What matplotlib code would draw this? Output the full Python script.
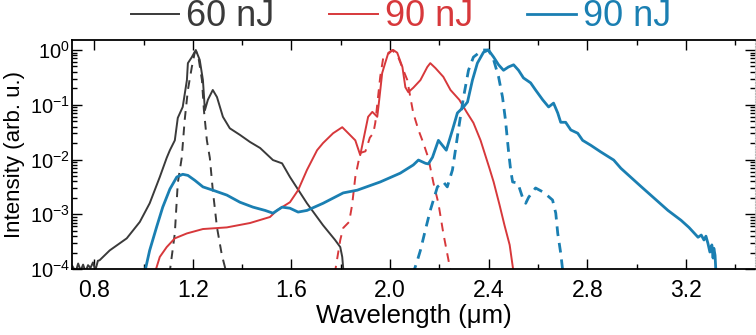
import numpy as np
import matplotlib
matplotlib.use("Agg")
import matplotlib.pyplot as plt
from matplotlib.ticker import LogLocator, MultipleLocator, NullFormatter

plt.rcParams['font.family'] = ['Liberation Sans', 'DejaVu Sans']
plt.rcParams['mathtext.default'] = 'regular'

# --- espectros (longitud de onda en um, log10 de intensidad normalizada) ---
wl_60_out = [0.712, 0.725, 0.735, 0.745, 0.755, 0.765, 0.775, 0.785, 0.795, 0.805, 0.815, 0.822,
             0.863, 0.932, 0.985, 1.025, 1.066, 1.094, 1.107, 1.127, 1.139, 1.159, 1.176, 1.180,
             1.196, 1.212, 1.228, 1.241, 1.249, 1.261, 1.281, 1.298, 1.322, 1.350, 1.391, 1.432,
             1.473, 1.525, 1.562, 1.594, 1.663, 1.728, 1.777, 1.798, 1.806, 1.812]
lg_60_out = [-3.95, -4.05, -3.90, -4.03, -3.92, -4.05, -3.93, -3.98, -3.88, -4.02, -3.85, -3.84,
             -3.66, -3.44, -3.14, -2.80, -2.32, -1.97, -1.83, -1.65, -1.24, -1.04, -0.55, -0.24,
             -0.13, 0.0, -0.18, -0.55, -1.10, -0.91, -0.73, -0.86, -1.22, -1.43, -1.55, -1.68,
             -1.79, -2.01, -2.07, -2.32, -2.80, -3.20, -3.47, -3.60, -3.78, -4.10]

wl_60_in = [1.105, 1.127, 1.139, 1.155, 1.167, 1.180, 1.196, 1.208, 1.220, 1.237, 1.245, 1.257,
            1.269, 1.281, 1.298, 1.318, 1.338]
lg_60_in = [-4.10, -3.35, -2.43, -1.97, -1.28, -0.73, -0.31, -0.04, -0.05, -0.55, -1.10, -1.65,
            -1.97, -2.56, -3.24, -3.75, -4.10]

wl_90a_out = [1.044, 1.066, 1.094, 1.127, 1.176, 1.241, 1.338, 1.432, 1.513, 1.541, 1.594, 1.627,
              1.663, 1.704, 1.728, 1.769, 1.806, 1.826, 1.859, 1.879, 1.900, 1.911, 1.928, 1.948,
              1.956, 1.968, 1.980, 1.993, 2.013, 2.029, 2.050, 2.062, 2.074, 2.094, 2.123, 2.151,
              2.163, 2.184, 2.216, 2.245, 2.281, 2.310, 2.338, 2.367, 2.403, 2.420, 2.444, 2.464,
              2.485, 2.502]
lg_90a_out = [-4.10, -3.78, -3.60, -3.44, -3.35, -3.27, -3.24, -3.16, -3.05, -2.93, -2.78, -2.56,
              -2.19, -1.83, -1.70, -1.52, -1.41, -1.50, -1.65, -1.92, -1.46, -1.22, -1.13, -1.22,
              -0.91, -0.42, -0.24, -0.05, 0.0, -0.05, -0.31, -0.68, -0.77, -0.69, -0.55, -0.31,
              -0.24, -0.33, -0.49, -0.73, -0.91, -1.13, -1.33, -1.65, -2.16, -2.41, -2.83, -3.20,
              -3.56, -4.10]

wl_90a_in = [1.775, 1.798, 1.810, 1.834, 1.846, 1.859, 1.879, 1.900, 1.918, 1.932, 1.940, 1.960,
             1.972, 1.989, 2.009, 2.033, 2.054, 2.070, 2.082, 2.094, 2.115, 2.135, 2.155, 2.176,
             2.196, 2.216, 2.237, 2.247]
lg_90a_in = [-4.10, -3.47, -3.25, -3.14, -2.83, -2.32, -1.88, -1.85, -1.60, -1.52, -1.33, -0.49,
             -0.15, -0.09, 0.0, -0.13, -0.37, -0.55, -0.86, -1.15, -1.46, -1.70, -1.97, -2.43,
             -2.80, -3.35, -3.84, -4.10]

wl_90b_out = [1.003, 1.025, 1.054, 1.078, 1.107, 1.135, 1.159, 1.180, 1.208, 1.241, 1.281, 1.338,
              1.391, 1.444, 1.493, 1.525, 1.562, 1.594, 1.627, 1.663, 1.728, 1.810, 1.867, 1.960,
              2.041, 2.094, 2.115, 2.144, 2.155, 2.172, 2.196, 2.228, 2.253, 2.273, 2.298, 2.314,
              2.334, 2.354, 2.379, 2.399, 2.420, 2.440, 2.460, 2.480, 2.501, 2.521, 2.541, 2.570,
              2.590, 2.619, 2.643, 2.663, 2.680, 2.692, 2.712, 2.733, 2.761, 2.781, 2.814, 2.854,
              2.907, 2.936, 3.017, 3.127, 3.180, 3.212, 3.249, 3.262, 3.273, 3.281, 3.289, 3.297,
              3.305, 3.310, 3.313, 3.318, 3.322]
lg_90b_out = [-4.10, -3.66, -3.22, -2.87, -2.54, -2.32, -2.27, -2.29, -2.38, -2.50, -2.56, -2.65,
              -2.78, -2.87, -2.93, -2.98, -2.87, -2.89, -2.96, -2.93, -2.80, -2.61, -2.56, -2.41,
              -2.25, -2.10, -2.01, -2.07, -2.08, -1.96, -1.65, -1.83, -1.46, -1.15, -1.04, -0.95,
              -0.55, -0.24, -0.04, 0.0, -0.13, -0.27, -0.37, -0.31, -0.27, -0.37, -0.51, -0.60,
              -0.73, -0.91, -1.04, -0.97, -1.15, -1.32, -1.32, -1.46, -1.52, -1.65, -1.74, -1.86,
              -2.01, -2.16, -2.49, -2.93, -3.11, -3.24, -3.42, -3.38, -3.47, -3.40, -3.53, -3.69,
              -3.56, -3.80, -3.62, -3.75, -4.10]

wl_90b_in = [2.092, 2.111, 2.123, 2.143, 2.163, 2.192, 2.216, 2.232, 2.253, 2.265, 2.277, 2.298,
             2.318, 2.338, 2.375, 2.399, 2.420, 2.440, 2.456, 2.468, 2.480, 2.489, 2.497, 2.518,
             2.537, 2.550, 2.562, 2.590, 2.623, 2.659, 2.672, 2.680, 2.692, 2.702]
lg_90b_in = [-4.10, -3.84, -3.66, -3.29, -2.93, -2.50, -2.41, -2.50, -2.19, -1.83, -1.46, -0.86,
             -0.37, -0.13, 0.0, 0.0, -0.18, -0.49, -0.86, -1.28, -1.83, -2.19, -2.41, -2.43,
             -2.69, -2.80, -2.69, -2.52, -2.60, -2.74, -2.98, -3.35, -3.71, -4.10]

etiquetas = ['60 nJ', '90 nJ', '90 nJ']
colores = ['#3a3a3a', '#d7383b', '#1a7fb2']

fig = plt.figure(figsize=(7.56, 3.35), dpi=100)
ax = fig.add_axes([72 / 756, 1 - 269 / 335, 683 / 756, 229 / 335])

def dibujar(wl, lg, color, lw, estilo):
    ax.plot(wl, 10.0 ** np.array(lg), color=color, lw=lw, ls=estilo, solid_joinstyle='round')

# salida (continua) y entrada (discontinua) para cada energia
dibujar(wl_60_out, lg_60_out, colores[0], 1.4, '-')
dibujar(wl_60_in, lg_60_in, colores[0], 1.4, (0, (4.5, 3.5)))
dibujar(wl_90a_out, lg_90a_out, colores[1], 1.4, '-')
dibujar(wl_90a_in, lg_90a_in, colores[1], 1.4, (0, (4.5, 3.5)))
dibujar(wl_90b_out, lg_90b_out, colores[2], 2.0, '-')
dibujar(wl_90b_in, lg_90b_in, colores[2], 2.0, (0, (3.5, 2.5)))

ax.set_yscale('log')
ax.set_ylim(1e-4, 10 ** 0.183)
ax.set_xlim(0.71, 3.48)

ax.xaxis.set_minor_locator(MultipleLocator(0.2))
ax.set_xticks([0.8, 1.2, 1.6, 2.0, 2.4, 2.8, 3.2])
ax.set_xticklabels(['0.8', '1.2', '1.6', '2.0', '2.4', '2.8', '3.2'])
ax.yaxis.set_minor_locator(LogLocator(base=10, subs=np.arange(2, 10), numticks=20))
ax.yaxis.set_minor_formatter(NullFormatter())
ax.set_yticks([1e-4, 1e-3, 1e-2, 1e-1, 1e0])
ax.set_yticklabels(['$10^{-4}$', '$10^{-3}$', '$10^{-2}$', '$10^{-1}$', '$10^{0}$'])

ax.tick_params(which='both', direction='in', top=True, right=True, width=1.0)
ax.tick_params(axis='x', which='major', pad=7, labelsize=16.5)
ax.tick_params(axis='y', which='major', pad=1.5, labelsize=14.5)
ax.tick_params(which='major', length=7)
ax.tick_params(which='minor', length=3.5)
for s in ['left', 'top', 'bottom']:
    ax.spines[s].set_linewidth(1.3)
ax.spines['right'].set_color('#bbbbbb')
ax.spines['right'].set_linestyle((0, (1, 1.5)))
ax.spines['right'].set_linewidth(0.8)

ax.set_xlabel('Wavelength (μm)', fontsize=18.5, labelpad=2)
ax.set_ylabel('Intensity (arb. u.)', fontsize=16)
ax.yaxis.set_label_coords(-47 / 683, 0.5)

manijas = [plt.Line2D([], [], color=c, lw=1.4 if i < 2 else 2.0) for i, c in enumerate(colores)]
fig.legend(manijas, etiquetas, loc='center', bbox_to_anchor=(401 / 756, 1 - 17 / 335), ncol=3,
           frameon=False, fontsize=26, handlelength=1.35, handletextpad=0.2, columnspacing=1.5,
           labelcolor=colores, borderpad=0)

fig.savefig('out.png', dpi=100)
